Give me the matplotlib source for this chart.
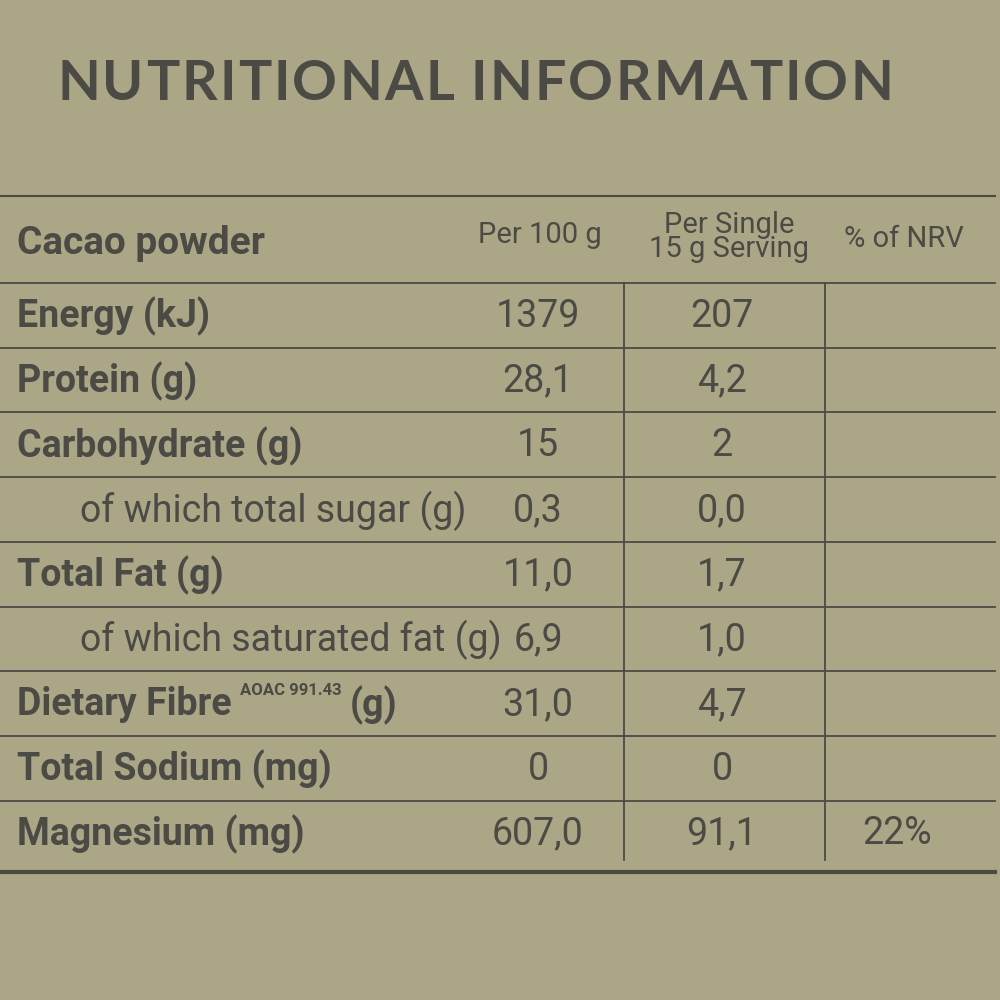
import matplotlib
matplotlib.use("Agg")
import matplotlib.pyplot as plt

title = "NUTRITIONAL INFORMATION"
product = "Cacao powder"
col_headers = ["Per 100 g", "Per Single\n15 g Serving", "% of NRV"]
nutrients = ["Energy (kJ)", "Protein (g)", "Carbohydrate (g)", "of which total sugar (g)",
             "Total Fat (g)", "of which saturated fat (g)", "Dietary Fibre", "Total Sodium (mg)",
             "Magnesium (mg)"]
is_sub = [False, False, False, True, False, True, False, False, False]
per100 = ["1379", "28,1", "15", "0,3", "11,0", "6,9", "31,0", "0", "607,0"]
perserv = ["207", "4,2", "2", "0,0", "1,7", "1,0", "4,7", "0", "91,1"]
nrv = ["", "", "", "", "", "", "", "", "22%"]

bg = "#aaa686"
fg = "#4b4a44"
fam = ["Roboto", "DejaVu Sans"]
fs = 27

fig = plt.figure(figsize=(10, 10), dpi=100, facecolor=bg)
ax = fig.add_axes([0, 0, 1, 1])
ax.set_facecolor(bg)
ax.set_xlim(0, 1000); ax.set_ylim(1000, 0); ax.axis("off")
fig.canvas.draw()
r = fig.canvas.get_renderer()

def width(t):
    return t.get_window_extent(r).width

chars = []
for ch in title:
    t = ax.text(0, 84, ch, fontsize=40, fontweight="bold", color=fg, va="center",
                family=["Lato", "DejaVu Sans"])
    chars.append(t)
ws = [width(t) if ch != " " else 12 for t, ch in zip(chars, title)]
gap = (893 - 57 - sum(ws)) / (len(title) - 1)
x = 57
for t, w in zip(chars, ws):
    t.set_x(x)
    x += w + gap

ax.plot([0, 995], [196, 196], color=fg, lw=1.5)
ax.text(17, 240, product, fontsize=28, fontweight="bold", color=fg, va="center_baseline", family=fam)
ax.text(540, 235, col_headers[0], fontsize=21, color=fg, ha="center", va="center", family=fam)
ax.text(729, 237, col_headers[1], fontsize=21, color=fg, ha="center", va="center", family=fam, linespacing=0.8)
ax.text(904, 239, col_headers[2], fontsize=21, color=fg, ha="center", va="center", family=fam)

top = 283
rh = 64.7
for i, (n, s, a, b, c) in enumerate(zip(nutrients, is_sub, per100, perserv, nrv)):
    y0 = top + i * rh
    ax.plot([0, 995], [y0, y0], color=fg, lw=1.3)
    yc = y0 + rh / 2 - 3
    if s:
        ax.text(80, yc, n, fontsize=fs, color=fg, va="center_baseline", family=fam)
    else:
        t = ax.text(17, yc, n, fontsize=fs, fontweight="bold", color=fg, va="center_baseline", family=fam)
        if n == "Dietary Fibre":
            xe = 17 + width(t) + 8
            t2 = ax.text(xe, yc - 12, "AOAC 991.43", fontsize=12, fontweight="bold", color=fg,
                         va="center_baseline", family=fam)
            ax.text(xe + width(t2) + 8, yc, "(g)", fontsize=fs, fontweight="bold", color=fg,
                    va="center_baseline", family=fam)
    ax.text(538, yc, a, fontsize=fs, color=fg, ha="center", va="center_baseline", family=fam)
    ax.text(722, yc, b, fontsize=fs, color=fg, ha="center", va="center_baseline", family=fam)
    ax.text(897, yc, c, fontsize=fs, color=fg, ha="center", va="center_baseline", family=fam)

for x in [624, 825]:
    ax.plot([x, x], [top, 860], color=fg, lw=1.3)
ax.plot([0, 995], [872, 872], color=fg, lw=3)

fig.savefig("out.png", dpi=100, facecolor=bg)
